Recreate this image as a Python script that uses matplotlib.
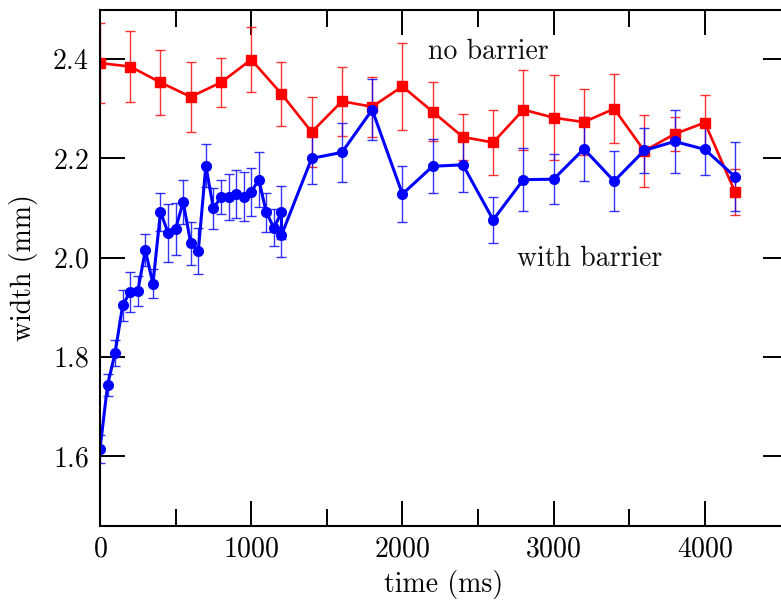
import matplotlib
matplotlib.use("Agg")
import matplotlib.pyplot as plt

# LaTeX-like look
plt.rcParams['font.family'] = 'cmr10'
plt.rcParams['mathtext.fontset'] = 'cm'
plt.rcParams['axes.formatter.use_mathtext'] = True

# no barrier (red squares), every 200 ms
red_time = [0, 200, 400, 600, 800, 1000, 1200, 1400, 1600, 1800, 2000,
            2200, 2400, 2600, 2800, 3000, 3200, 3400, 3600, 3800, 4000, 4200]
red_width = [2.392, 2.385, 2.353, 2.324, 2.353, 2.399, 2.330, 2.253, 2.315, 2.304, 2.345,
             2.294, 2.243, 2.232, 2.298, 2.282, 2.273, 2.300, 2.215, 2.249, 2.272, 2.132]
red_err = [0.080, 0.071, 0.065, 0.070, 0.050, 0.065, 0.065, 0.070, 0.069, 0.060, 0.088,
           0.059, 0.046, 0.065, 0.081, 0.086, 0.067, 0.069, 0.072, 0.034, 0.055, 0.046]

# with barrier (blue circles), dense at the start
blue_time = [0, 50, 100, 150, 200, 250, 300, 350, 400, 450, 500, 550, 600, 650,
             700, 750, 800, 850, 900, 950, 1000, 1050, 1100, 1150, 1200, 1200,
             1400, 1600, 1800, 2000, 2200, 2400, 2600, 2800, 3000, 3200, 3400,
             3600, 3800, 4000, 4200]
blue_width = [1.614, 1.743, 1.808, 1.904, 1.931, 1.933, 2.015, 1.947, 2.092, 2.050,
              2.058, 2.112, 2.029, 2.013, 2.185, 2.099, 2.122, 2.122, 2.128, 2.123,
              2.132, 2.157, 2.091, 2.060, 2.091, 2.045,
              2.200, 2.212, 2.298, 2.128, 2.184, 2.187, 2.076, 2.157, 2.158, 2.219,
              2.154, 2.216, 2.234, 2.218, 2.163]
blue_err = [0.029, 0.022, 0.026, 0.031, 0.040, 0.030, 0.032, 0.029, 0.038, 0.058,
            0.053, 0.045, 0.043, 0.046, 0.043, 0.042, 0.035, 0.046, 0.048, 0.049,
            0.049, 0.056, 0.039, 0.037, 0.053, 0.043,
            0.051, 0.059, 0.061, 0.056, 0.054, 0.054, 0.047, 0.063, 0.050, 0.065,
            0.060, 0.045, 0.063, 0.052, 0.069]

fs = 20

fig = plt.figure(figsize=(7.81, 6.01), dpi=100)
# right spine sits just outside the picture, like the cropped original
ax = fig.add_axes([100 / 781, 75.5 / 601, 688 / 781, 516 / 601])

ax.errorbar(red_time, red_width, yerr=red_err, color='red', marker='s', markersize=7.5,
            linewidth=1.9, elinewidth=1.0, capsize=3.8, capthick=1.0, ecolor=(1, 0, 0, 0.8))
ax.errorbar(blue_time, blue_width, yerr=blue_err, color='blue', marker='o', markersize=7,
            linewidth=2.2, elinewidth=1.0, capsize=3.8, capthick=1.0, ecolor=(0, 0, 1, 0.8))

ax.text(2170, 2.40, 'no barrier', fontsize=fs, va='baseline', color='#111111')
ax.text(2760, 1.9825, 'with barrier', fontsize=fs, va='baseline', color='#111111')

ax.set_xlim(0, 4550)
ax.set_ylim(1.46, 2.5)
ax.set_xticks([0, 1000, 2000, 3000, 4000])
ax.set_xticks([500, 1500, 2500, 3500], minor=True)
ax.set_yticks([1.6, 1.8, 2.0, 2.2, 2.4])

ax.tick_params(which='both', direction='in', top=True, right=True, width=1.4,
               labelsize=fs, pad=8)
ax.tick_params(which='major', length=18)
ax.tick_params(which='minor', length=12)
for s in ax.spines.values():
    s.set_linewidth(1.5)

ax.set_xlabel('time (ms)', fontsize=fs, labelpad=5)
ax.set_ylabel('width (mm)', fontsize=fs, labelpad=10)

fig.savefig('out.png', dpi=100)
